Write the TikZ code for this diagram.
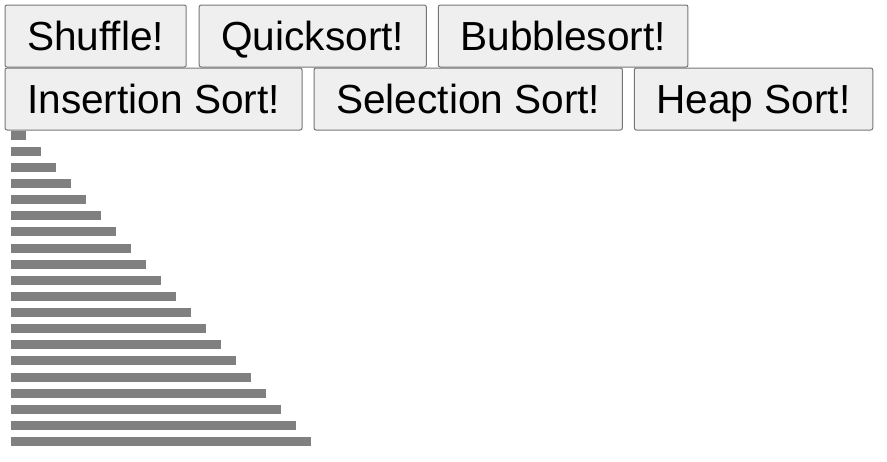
\documentclass[tikz,border=0pt]{standalone}
\usepackage{fontspec}
\setmainfont{Liberation Sans}
\usepackage{xcolor}
\usetikzlibrary{positioning}
\definecolor{buttonface}{RGB}{239,239,239}
\definecolor{buttonedge}{RGB}{118,118,118}
\definecolor{barfill}{RGB}{128,128,128}

\begin{document}
\begin{tikzpicture}[x=1pt,y=-1pt,
        sort button/.style={draw=buttonedge,fill=buttonface,line width=1pt,rounded corners=2pt,
          font=\fontsize{40.6}{48}\selectfont,inner xsep=22.15pt,inner ysep=0pt,
          minimum height=62pt,text height=29.1pt,text depth=0pt,outer sep=0pt},
        bar/.style={fill=barfill}
      ]
      \useasboundingbox (0,0) rectangle (887,461);

      % first row of buttons
      \node[sort button,anchor=north west] (shuffle) at (5,5) {Shuffle!};
      \node[sort button,right=13pt of shuffle] (quick) {Quicksort!};
      \node[sort button,right=12pt of quick] (bubble) {Bubblesort!};

      % second row of buttons
      \node[sort button,anchor=north west] (insertion) at (5,68) {Insertion Sort!};
      \node[sort button,right=12pt of insertion] (selection) {Selection Sort!};
      \node[sort button,right=12pt of selection] (heap) {Heap Sort!};

      % sorted bars
      \foreach \i in {1,...,20}
        \fill[bar] (11,{130.7+16.12*(\i-1)}) rectangle ++({15*\i},9);
    \end{tikzpicture}
\end{document}
